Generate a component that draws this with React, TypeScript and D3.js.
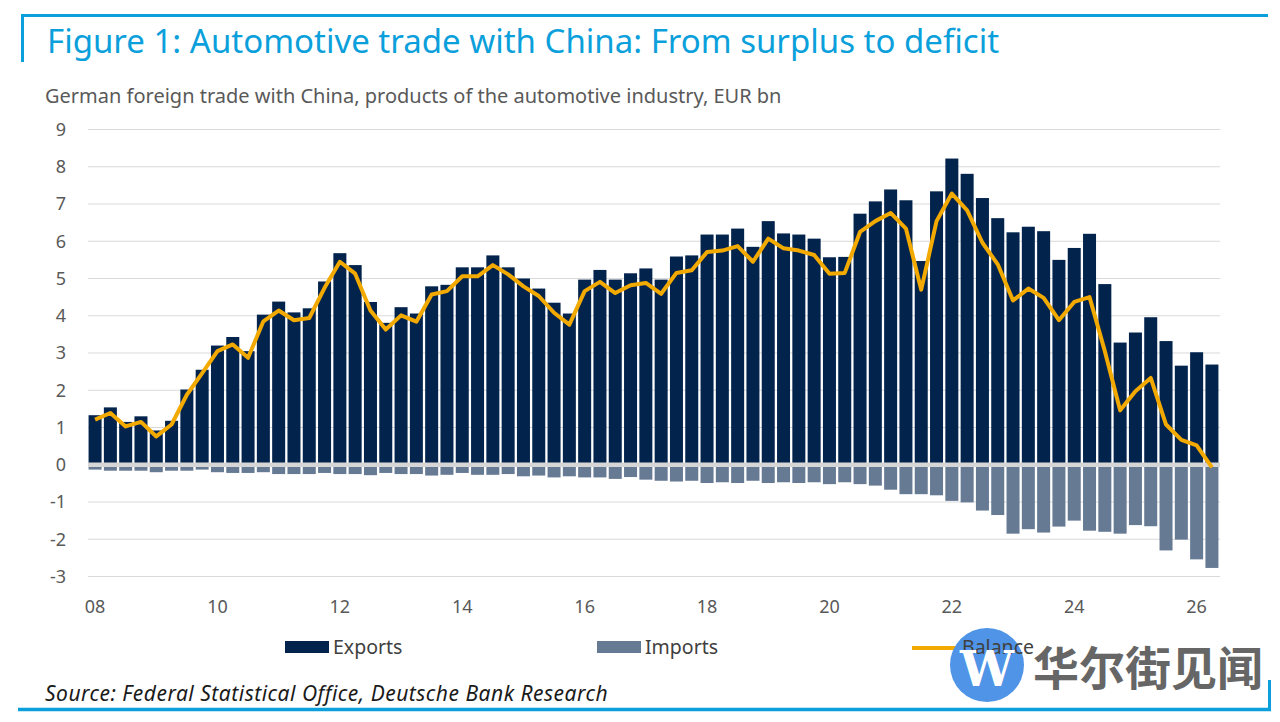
import React from 'react';
import * as d3 from 'd3';

// quarterly data, 2008 Q1 .. 2026 Q2, EUR bn
const quarters = d3.range(74).map((i) => `${2008 + Math.floor(i / 4)}Q${(i % 4) + 1}`);

const exportsBn = [
  1.33, 1.54, 1.15, 1.30, 0.92, 1.18, 2.02, 2.55,
  3.20, 3.43, 3.05, 4.03, 4.38, 4.09, 4.20, 4.92,
  5.68, 5.36, 4.37, 3.81, 4.23, 4.06, 4.79, 4.83,
  5.30, 5.30, 5.62, 5.30, 5.00, 4.73, 4.35, 4.06,
  4.97, 5.23, 4.97, 5.14, 5.27, 4.97, 5.59, 5.62,
  6.18, 6.18, 6.34, 5.85, 6.54, 6.21, 6.18, 6.07,
  5.57, 5.58, 6.74, 7.07, 7.39, 7.10, 5.47, 7.34,
  8.22, 7.81, 7.16, 6.62, 6.24, 6.39, 6.27, 5.50,
  5.82, 6.20, 4.85, 3.28, 3.55, 3.96, 3.32, 2.66,
  3.02, 2.69,
];

const importsBn = [
  -0.13, -0.16, -0.16, -0.16, -0.20, -0.16, -0.16, -0.13,
  -0.20, -0.22, -0.22, -0.20, -0.25, -0.25, -0.25, -0.22,
  -0.25, -0.25, -0.28, -0.22, -0.25, -0.25, -0.29, -0.27,
  -0.22, -0.27, -0.27, -0.25, -0.31, -0.29, -0.34, -0.31,
  -0.34, -0.34, -0.38, -0.33, -0.40, -0.43, -0.45, -0.43,
  -0.49, -0.47, -0.49, -0.43, -0.49, -0.47, -0.49, -0.47,
  -0.52, -0.47, -0.52, -0.56, -0.67, -0.79, -0.79, -0.82,
  -0.97, -1.01, -1.23, -1.35, -1.85, -1.73, -1.82, -1.66,
  -1.50, -1.77, -1.80, -1.85, -1.62, -1.65, -2.30, -2.01,
  -2.54, -2.77,
];

const balanceBn = [
  1.21, 1.39, 1.03, 1.15, 0.76, 1.08, 1.88, 2.46,
  3.05, 3.23, 2.87, 3.85, 4.14, 3.88, 3.94, 4.75,
  5.45, 5.13, 4.14, 3.63, 4.01, 3.84, 4.57, 4.66,
  5.06, 5.06, 5.36, 5.11, 4.79, 4.53, 4.08, 3.76,
  4.66, 4.91, 4.61, 4.82, 4.88, 4.59, 5.15, 5.22,
  5.71, 5.75, 5.87, 5.45, 6.07, 5.81, 5.75, 5.63,
  5.13, 5.15, 6.25, 6.54, 6.76, 6.34, 4.70, 6.54,
  7.28, 6.83, 5.96, 5.38, 4.41, 4.73, 4.48, 3.88,
  4.37, 4.50, 3.05, 1.46, 1.97, 2.33, 1.08, 0.67,
  0.52, -0.07,
];

const yTicks = [-3, -2, -1, 0, 1, 2, 3, 4, 5, 6, 7, 8, 9];
const xTickQuarters = ['2008Q1', '2010Q1', '2012Q1', '2014Q1', '2016Q1', '2018Q1', '2020Q1', '2022Q1', '2024Q1', '2026Q1'];
const xTickLabels = ['08', '10', '12', '14', '16', '18', '20', '22', '24', '26'];

const BLUE = '#0b9fdb';
const NAVY = '#02234c';
const SLATE = '#667a94';
const AMBER = '#f2a900';
const GREY = '#595959';
const FONT = '"Noto Sans", "Open Sans", sans-serif';

const App: React.FC = () => {
  const width = 1280;
  const height = 722;

  const x = d3.scaleBand<string>()
    .domain(quarters)
    .range([87.5, 1219.5])
    .paddingInner(0.15)
    .paddingOuter(0.07);

  const y = d3.scaleLinear()
    .domain([-3, 9])
    .range([576.5, 129.5]);

  const cx = (q: string) => (x(q) ?? 0) + x.bandwidth() / 2;

  const balanceLine = d3.line<number>()
    .x((_, i) => cx(quarters[i]))
    .y((d) => y(d));

  return (
    <svg width={width} height={height} style={{ position: 'absolute', left: 0, top: 0, background: '#fff' }}>
      {/* frame */}
      <line x1={21} x2={1268} y1={15.5} y2={15.5} stroke={BLUE} strokeWidth={3} />
      <line x1={22.5} x2={22.5} y1={14} y2={62} stroke={BLUE} strokeWidth={3} />
      <line x1={18} x2={1271} y1={709.5} y2={709.5} stroke={BLUE} strokeWidth={3.5} />
      <line x1={1269.5} x2={1269.5} y1={680} y2={711} stroke={BLUE} strokeWidth={3} />

      <text x={47} y={53} fill={BLUE} fontFamily={FONT} fontSize={33}>
        Figure 1: Automotive trade with China: From surplus to deficit
      </text>
      <text x={45} y={103} fill={GREY} fontFamily={FONT} fontSize={20}>
        German foreign trade with China, products of the automotive industry, EUR bn
      </text>

      {/* grid + y labels */}
      {yTicks.map((t) => (
        <g key={t}>
          <line x1={88} x2={1220} y1={y(t)} y2={y(t)} stroke="#d9d9d9" strokeWidth={1} />
          <text x={66} y={y(t)} dy="0.35em" textAnchor="end" fill={GREY} fontFamily={FONT} fontSize={18}>
            {t}
          </text>
        </g>
      ))}

      {/* bars */}
      {exportsBn.map((v, i) => (
        <rect key={`e${i}`} x={x(quarters[i])} width={x.bandwidth()} y={y(v)} height={y(0) - y(v)} fill={NAVY} />
      ))}
      {importsBn.map((v, i) => (
        <rect key={`m${i}`} x={x(quarters[i])} width={x.bandwidth()} y={y(0)} height={y(v) - y(0)} fill={SLATE} />
      ))}
      <line x1={88} x2={1220} y1={y(0)} y2={y(0)} stroke="#d6d6d6" strokeWidth={4.5} />

      <path d={balanceLine(balanceBn) ?? ''} fill="none" stroke={AMBER} strokeWidth={4} strokeLinejoin="round" />

      {/* x labels */}
      {xTickQuarters.map((q, i) => (
        <text key={q} x={cx(q)} y={613} textAnchor="middle" fill={GREY} fontFamily={FONT} fontSize={18}>
          {xTickLabels[i]}
        </text>
      ))}

      {/* legend */}
      <rect x={285} y={641} width={44} height={12} fill={NAVY} />
      <text x={333} y={654} fill="#404040" fontFamily={FONT} fontSize={19.5}>Exports</text>
      <rect x={597} y={641} width={44} height={12} fill={SLATE} />
      <text x={645} y={654} fill="#404040" fontFamily={FONT} fontSize={19.5}>Imports</text>
      <line x1={912} x2={960} y1={648} y2={648} stroke={AMBER} strokeWidth={4} />

      <text x={45} y={701} fill="#1a1a1a" fontFamily={FONT} fontSize={21} fontStyle="italic" letterSpacing={0.5}>
        Source: Federal Statistical Office, Deutsche Bank Research
      </text>

      {/* watermark: circle sits under the legend text, the W on top */}
      <circle cx={987} cy={665} r={37} fill="#4f94e6" />
      <text x={962} y={654} fill="#404040" fontFamily={FONT} fontSize={19.5}>Balance</text>
      <text x={987} y={686} textAnchor="middle" fill="#fff" fontFamily="'DejaVu Serif', serif" fontWeight="bold" fontSize={48}>W</text>
      <text x={1033} y={685} fill="#666" fontFamily='"Noto Sans CJK SC", sans-serif' fontWeight="bold" fontSize={46}>华尔街见闻</text>
    </svg>
  );
};

export default App;
